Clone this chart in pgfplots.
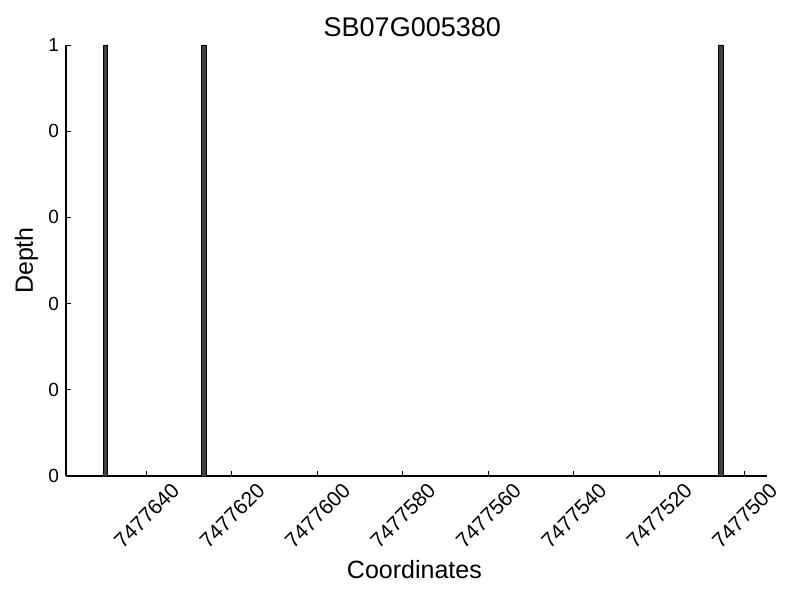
\documentclass[border=0pt]{standalone}
\usepackage{pgfplots}
\pgfplotsset{compat=1.18}
\usepackage{fontspec}
\setmainfont{Liberation Sans}
\begin{document}
\begin{tikzpicture}
\path[use as bounding box] (-33pt,-62pt) rectangle (367pt,238pt);
\begin{axis}[
  at={(0,0)}, anchor=south west,
  scale only axis,
  width=350.5pt, height=215.5pt,
  axis x line*=bottom, axis y line*=left,
  axis line style={line width=0.6pt},
  x dir=reverse,
  xmin=-5.3, xmax=158.8,
  ymin=0, ymax=1,
  tick align=inside,
  major tick length=2.5pt,
  tick style={black, line width=0.4pt},
  xtick={0,20,40,60,80,100,120,140},
  xticklabels={7477500,7477520,7477540,7477560,7477580,7477600,7477620,7477640},
  ytick={0,0.2,0.4,0.6,0.8,1},
  yticklabels={0,0,0,0,0,1},
  /pgf/number format/assume math mode=true,
  yticklabel style={font=\fontsize{9.5}{11}\selectfont},
  xticklabel style={font=\fontsize{10.5}{12}\selectfont, xshift=12pt, yshift=-2.5pt, rotate=45, anchor=north east, inner sep=0pt},
  every axis title shift=0pt,
  title={SB07G005380},
  title style={at={(axis description cs:0.494,1.0406)}, anchor=center, font=\fontsize{13.5}{16}\selectfont},
  xlabel={Coordinates},
  xlabel style={at={(axis description cs:0.497,-0.216)}, anchor=center, font=\fontsize{12.5}{14}\selectfont},
  ylabel={Depth},
  ylabel style={at={(axis description cs:-0.0565,0.5)}, anchor=center, rotate=0, font=\fontsize{12.5}{14}\selectfont},
  clip=false,
]
\addplot[ybar, bar width=1, bar shift=0pt, fill=black!75, draw=black, line width=0.4pt]
  coordinates {(149.5,1) (126.5,1) (5.5,1)};
\end{axis}
\end{tikzpicture}
\end{document}
